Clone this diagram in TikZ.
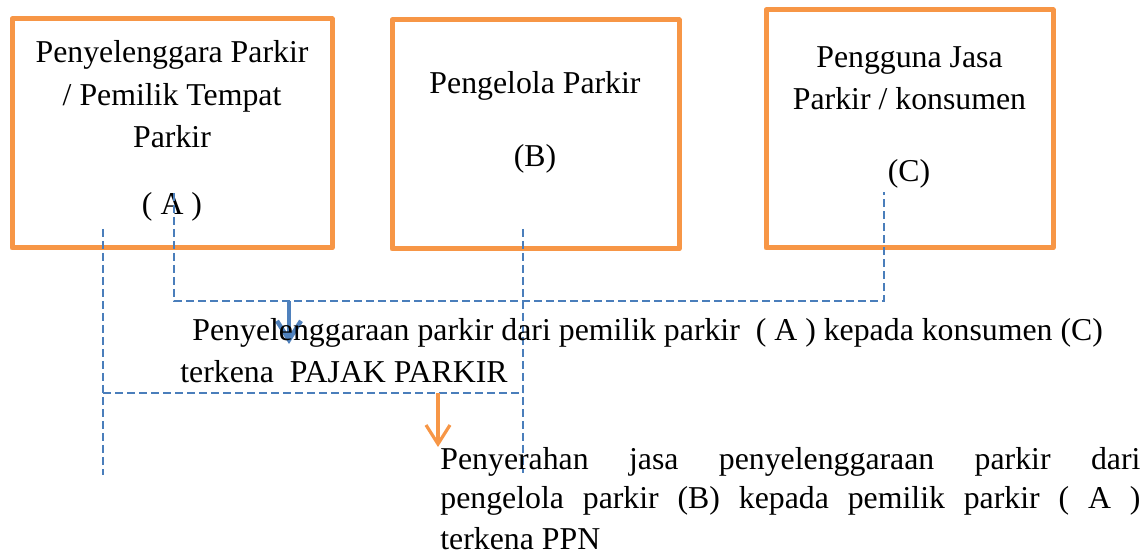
\documentclass[tikz,border=0pt]{standalone}
\usepackage{fontspec}
\setmainfont{Liberation Serif}
\usetikzlibrary{arrows.meta}
\definecolor{boxorange}{HTML}{F79646}
\definecolor{lineblue}{HTML}{4A7EBB}
\definecolor{arrowblue}{HTML}{4F81BD}

\begin{document}
\begin{tikzpicture}[x=0.5pt,y=-0.5pt,
	party/.style={draw=boxorange,line width=2.5pt,line join=round,inner sep=0pt,outer sep=0pt},
	link/.style={lineblue,line width=0.75pt,dash pattern=on 4pt off 2pt},
	txt/.style={font=\fontsize{15.9}{21.25}\selectfont,inner sep=0pt,anchor=base},
	flow/.style={line width=#1,-{Straight Barb[length=9.5pt,width=12pt]}}]

	\useasboundingbox (0,0) rectangle (1148,556);

	\node[party,minimum width=160pt,minimum height=114.5pt] (boxA) at (172,133.5) {};
	\node[party,minimum width=143.5pt,minimum height=114.5pt] (boxB) at (535.5,134.5) {};
	\node[party,minimum width=143.5pt,minimum height=119pt] (boxC) at (909.5,129) {};

	\node[txt,align=center] (nameA) at (172,148) {Penyelenggara Parkir\\/ Pemilik Tempat\\Parkir};
	\node[txt] (labA) at (172,215) {( A )};
	\node[txt] (nameB) at (535,94) {Pengelola Parkir};
	\node[txt] (labB) at (535,167) {(B)};
	\node[txt,align=center] (nameC) at (909.5,110) {Pengguna Jasa\\Parkir / konsumen};
	\node[txt] (labC) at (909,182) {(C)};

	\coordinate (a1) at (174,193);
	\coordinate (a2) at (174,301);
	\coordinate (c1) at (884,192);
	\coordinate (c2) at (884,301);
	\draw[link] (a1) -- (a2) -- (c2) -- (c1);

	\coordinate (l1) at (103,229);
	\coordinate (l2) at (103,475);
	\coordinate (l3) at (103,393);
	\coordinate (b1) at (523,229);
	\coordinate (b2) at (523,473);
	\coordinate (b3) at (523,393);
	\draw[link] (l1) -- (l2);
	\draw[link] (b1) -- (b2);
	\draw[link] (l3) -- (b3);

	\coordinate (p1) at (289,301);
	\coordinate (p2) at (289,344);
	\draw[flow=2.2pt,arrowblue] (p1) -- (p2);
	\coordinate (q1) at (438,393);
	\coordinate (q2) at (438,447);
	\draw[flow=1.6pt,boxorange] (q1) -- (q2);

	\node[txt,anchor=base west] (pajak1) at (192,341) {Penyelenggaraan parkir dari pemilik parkir\ \ ( A ) kepada konsumen (C)};
	\node[txt,anchor=base west] (pajak2) at (180,383) {terkena\ \ PAJAK PARKIR};
	\node[txt,anchor=base west,text width=350pt,align=justify,font=\fontsize{15.9}{20}\selectfont] (ppn) at (440,469)
		{Penyerahan jasa penyelenggaraan parkir dari\linebreak pengelola parkir (B) kepada pemilik parkir ( A )\linebreak terkena PPN};
\end{tikzpicture}
\end{document}
